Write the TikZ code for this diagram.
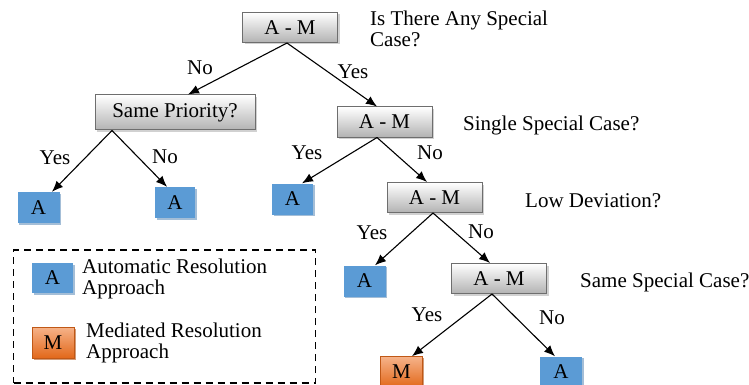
\documentclass[tikz,border=0pt]{standalone}
\usepackage{fontspec}
\setmainfont{Liberation Serif}
\usetikzlibrary{shadows,arrows.meta}
\definecolor{boxblue}{HTML}{5B9BD5}
\definecolor{blueshadow}{HTML}{4A7DB0}
\definecolor{orangetop}{HTML}{F6B38A}
\definecolor{orangebot}{HTML}{E2681A}
\definecolor{orangeshadow}{HTML}{B4581E}
\definecolor{grayborder}{HTML}{6E6E6E}
\begin{document}
\begin{tikzpicture}[x=1pt,y=-1pt,
  every node/.style={font=\fontsize{21}{21}\selectfont},
  choicebox/.style={minimum width=95pt, minimum height=30pt, inner sep=0pt,
    top color=white, bottom color=gray!60, draw=grayborder, line width=1pt,
    drop shadow={shadow xshift=2pt, shadow yshift=-2pt, fill=gray!60, opacity=0.6}},
  autobox/.style={minimum width=42pt, minimum height=31pt, inner sep=0pt, fill=boxblue,
    drop shadow={shadow xshift=1.5pt, shadow yshift=-1.5pt, fill=blueshadow, opacity=0.5}},
  medbox/.style={minimum width=42pt, minimum height=31pt, inner sep=0pt,
    top color=orangetop, bottom color=orangebot, draw=orangebot!85!black, line width=0.6pt,
    drop shadow={shadow xshift=1.5pt, shadow yshift=-1.5pt, fill=orangeshadow, opacity=0.6}},
  arr/.style={-{Latex[length=11pt,width=9pt]}, line width=1.1pt},
  question/.style={anchor=west, align=left, inner sep=0pt},
  lbl/.style={inner sep=0pt}
]
\useasboundingbox (0,0) rectangle (749,385);
\clip (0,0) rectangle (749,385);

% decision nodes
\node[choicebox] (t1) at (290,27.5) {A - M};
\node[choicebox, minimum width=160pt, minimum height=35pt] (sp) at (175,112.5) {Same Priority?};
\node[choicebox] (t2) at (384.5,122) {A - M};
\node[choicebox] (t3) at (434.5,197.5) {A - M};
\node[choicebox] (t4) at (499,278.5) {A - M};

% leaves
\node[autobox] (l1) at (38.5,207.5) {A};
\node[autobox, minimum width=40pt] (l2) at (175,202.5) {A};
\node[autobox, minimum width=41pt] (l3) at (292.5,199) {A};
\node[autobox] (l4) at (364.5,281) {A};
\node[medbox] (m1) at (401.5,372) {M};
\node[autobox] (l5) at (561,372) {A};

% questions
\node[question] (q1) at (370,29) {Is There Any Special\\Case?};
\node[question] (q2) at (463,125) {Single Special Case?};
\node[question] (q3) at (525,201) {Low Deviation?};
\node[question] (q4) at (580,282) {Same Special Case?};

% edges
\draw[arr] ([xshift=-3pt]t1.south) -- ([xshift=13pt]sp.north);
\draw[arr] ([xshift=-3pt]t1.south) -- ([xshift=-7.5pt]t2.north);
\draw[arr] ([xshift=-63pt]sp.south) -- ([xshift=13.5pt]l1.north);
\draw[arr] ([xshift=-63pt]sp.south) -- ([xshift=-8pt]l2.north);
\draw[arr] ([xshift=-7.5pt]t2.south) -- ([xshift=9.5pt]l3.north);
\draw[arr] ([xshift=-7.5pt]t2.south) -- ([xshift=-7.5pt]t3.north);
\draw[arr] ([xshift=-1.5pt]t3.south) -- ([xshift=10.5pt]l4.north);
\draw[arr] ([xshift=-1.5pt]t3.south) -- ([xshift=-9pt]t4.north);
\draw[arr] ([xshift=-7pt]t4.south) -- ([xshift=10.5pt]m1.north);
\draw[arr] ([xshift=-7pt]t4.south) -- ([xshift=-6pt]l5.north);

% edge labels
\node[lbl] (e1) at (200,68) {No};
\node[lbl] (e2) at (353,72) {Yes};
\node[lbl] (e3) at (55,158) {Yes};
\node[lbl] (e4) at (165,157) {No};
\node[lbl] (e5) at (307,153) {Yes};
\node[lbl] (e6) at (430,153) {No};
\node[lbl] (e7) at (372,233) {Yes};
\node[lbl] (e8) at (481,232) {No};
\node[lbl] (e9) at (427,315) {Yes};
\node[lbl] (e10) at (552,318) {No};

% legend
\node[draw, dash pattern=on 7pt off 5pt, line width=1.6pt, minimum width=302pt, minimum height=133pt, inner sep=0pt] (legend) at (164.5,316.5) {};
\node[autobox, minimum width=41pt, minimum height=30pt] (la) at (52.5,278) {A};
\node[question] (lta) at (82,279) {Automatic Resolution\\Approach};
\node[medbox, minimum height=31pt] (lm) at (53,342.5) {M};
\node[question] (ltm) at (86,343) {Mediated Resolution\\Approach};
\end{tikzpicture}
\end{document}
